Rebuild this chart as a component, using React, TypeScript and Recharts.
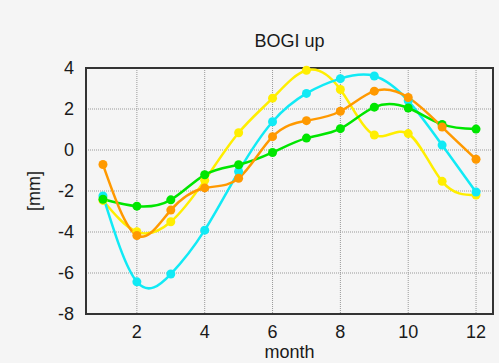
import React from 'react';
import { LineChart, Line, XAxis, YAxis, CartesianGrid, ReferenceArea } from 'recharts';

const months = [1, 2, 3, 4, 5, 6, 7, 8, 9, 10, 11, 12];
const orangeSeries = [-0.71, -4.17, -2.93, -1.85, -1.38, 0.65, 1.43, 1.89, 2.87, 2.56, 1.12, -0.45];
const greenSeries = [-2.4, -2.74, -2.43, -1.21, -0.72, -0.12, 0.58, 1.04, 2.09, 2.05, 1.25, 1.02];
const cyanSeries = [-2.24, -6.43, -6.05, -3.91, -1.05, 1.38, 2.76, 3.48, 3.61, 2.4, 0.24, -2.05];
const yellowSeries = [-2.46, -3.99, -3.5, -1.48, 0.84, 2.53, 3.89, 2.95, 0.73, 0.8, -1.53, -2.2];
const xTicks = [2, 4, 6, 8, 10, 12];
const yTicks = [-8, -6, -4, -2, 0, 2, 4];

const data = months.map((m, i) => ({
  month: m,
  orange: orangeSeries[i],
  green: greenSeries[i],
  cyan: cyanSeries[i],
  yellow: yellowSeries[i],
}));

const FONT = '"Liberation Sans", Arial, Helvetica, sans-serif';
const series = [
  { key: 'yellow', color: '#ffee00' },
  { key: 'cyan', color: '#11eaf5' },
  { key: 'green', color: '#00e600' },
  { key: 'orange', color: '#ff9900' },
];

export default function App() {
  return (
    <div style={{ position: 'absolute', left: 0, top: 0, width: 499, height: 363, background: '#f5f5f5', overflow: 'hidden', fontFamily: FONT }}>
      <div style={{ position: 'absolute', left: 86, width: 407, top: 32, lineHeight: '18px', fontSize: 18, textAlign: 'center', color: '#1a1a1a' }}>BOGI up</div>
      <div style={{ position: 'absolute', left: 34, top: 191, fontSize: 18, lineHeight: '18px', color: '#1a1a1a', transform: 'translate(-50%, -50%) rotate(-90deg)', whiteSpace: 'nowrap' }}>[mm]</div>
      <div style={{ position: 'absolute', left: 86, width: 407, top: 343, fontSize: 18, lineHeight: '18px', textAlign: 'center', color: '#1a1a1a' }}>month</div>
      <LineChart width={499} height={363} data={data} margin={{ top: 68, right: 6, bottom: 0, left: 26 }}>
        <CartesianGrid stroke="#999" strokeDasharray="1 1" />
        <XAxis
          dataKey="month"
          type="number"
          domain={[0.5, 12.5]}
          ticks={xTicks}
          axisLine={false}
          tickLine={false}
          tickSize={0}
          tickMargin={11}
          height={49}
          tick={{ fontSize: 18, fill: '#1a1a1a', fontFamily: FONT }}
        />
        <XAxis
          xAxisId="top"
          orientation="top"
          dataKey="month"
          type="number"
          domain={[0.5, 12.5]}
          ticks={xTicks}
          axisLine={false}
          mirror
          tick={false}
          tickSize={5}
          tickLine={{ stroke: '#333', strokeWidth: 1.5 }}
          height={0}
        />
        <YAxis
          type="number"
          domain={[-8, 4]}
          ticks={yTicks}
          axisLine={false}
          tickLine={false}
          tickSize={0}
          tickMargin={12}
          width={60}
          tick={{ fontSize: 18, fill: '#1a1a1a', fontFamily: FONT }}
        />
        <YAxis
          yAxisId="right"
          orientation="right"
          type="number"
          domain={[-8, 4]}
          ticks={yTicks}
          axisLine={false}
          mirror
          tick={false}
          tickSize={5}
          tickLine={{ stroke: '#333', strokeWidth: 1.5 }}
          width={0}
        />
        <ReferenceArea x1={0.5} x2={12.5} y1={-8} y2={4} fill="none" stroke="#333" strokeWidth={2} fillOpacity={0} />
        {series.map((s) => (
          <Line
            key={s.key}
            dataKey={s.key}
            type="natural"
            stroke={s.color}
            strokeWidth={2.5}
            dot={{ r: 4.5, fill: s.color, stroke: 'none' }}
            activeDot={false}
            isAnimationActive={false}
          />
        ))}
      </LineChart>
    </div>
  );
}
